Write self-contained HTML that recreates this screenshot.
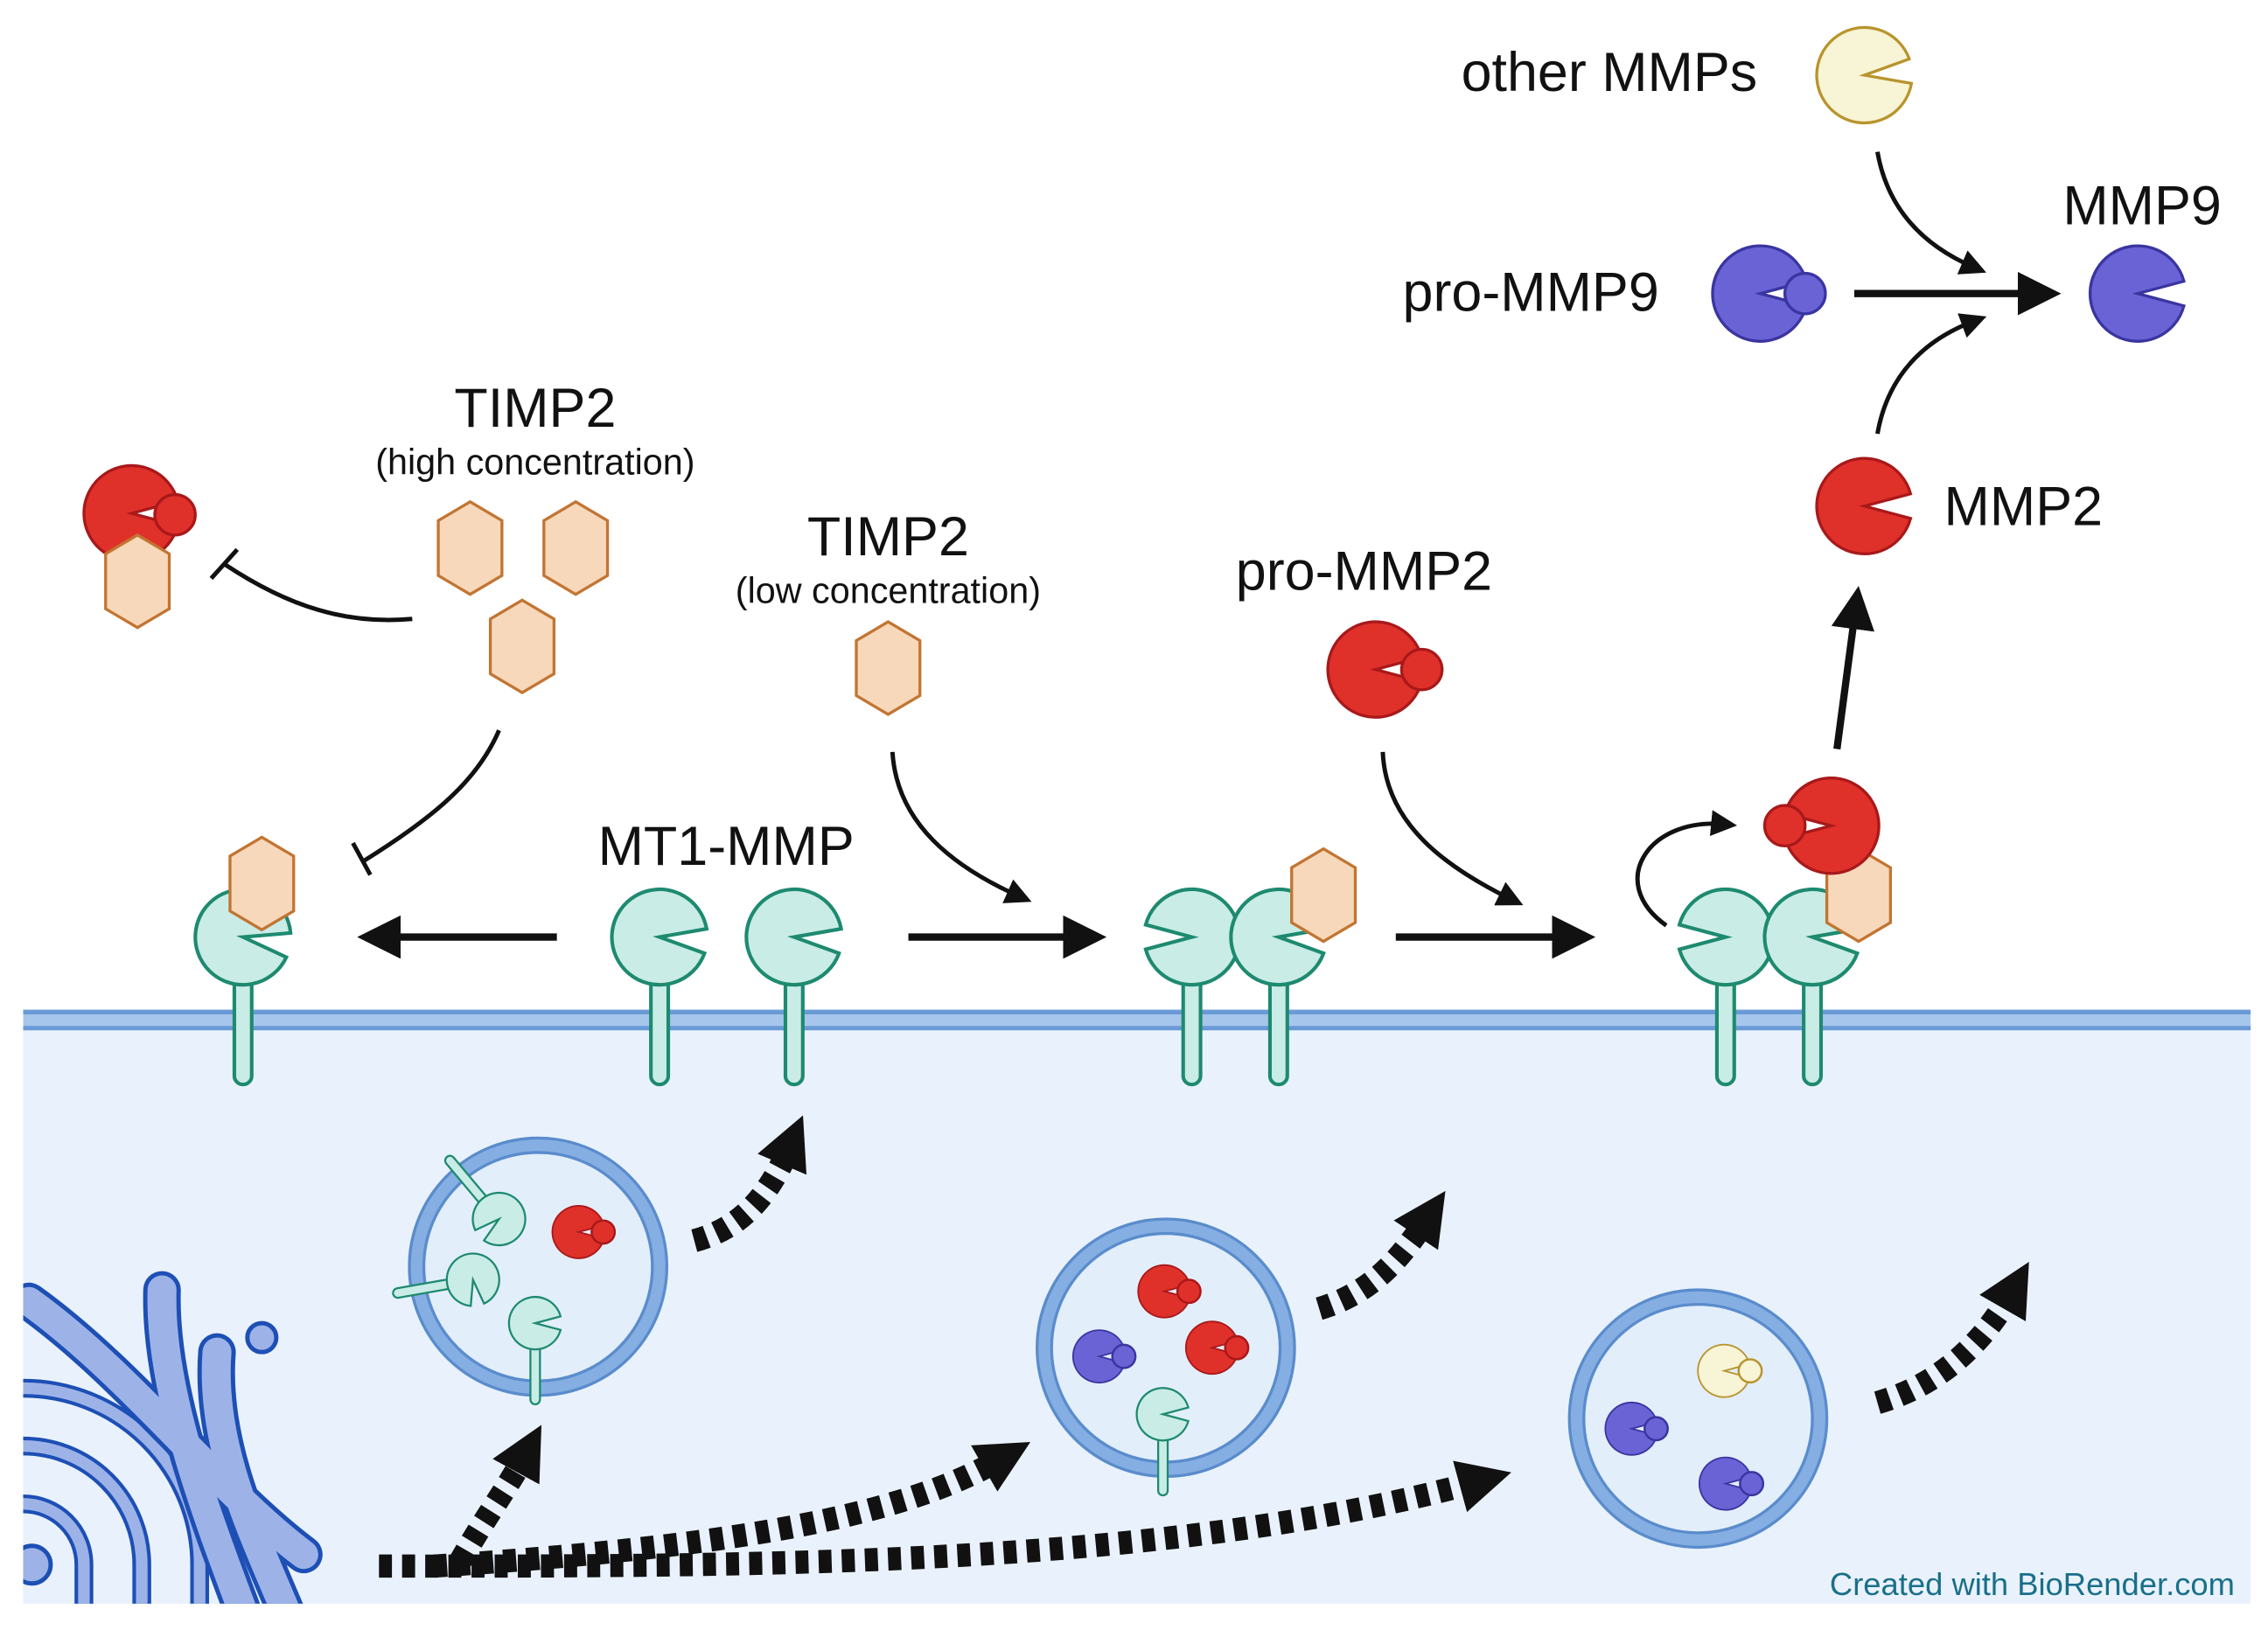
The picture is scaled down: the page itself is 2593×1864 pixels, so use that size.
<!DOCTYPE html>
<html><head><meta charset="utf-8"><style>
html,body{margin:0;padding:0;background:#fff}
svg{display:block}
text{font-family:"Liberation Sans",sans-serif;fill:#111}
</style></head><body>
<svg width="2593" height="1864" viewBox="0 0 1568 1127.2" xmlns="http://www.w3.org/2000/svg">
<defs>
<path id="pac" d="M0,0 L31.9,-8.5 A33 33 0 1 0 31.9,8.5 Z"/>
<path id="hex" d="M0,-32 L22,-19 L22,19 L0,32 L-22,19 L-22,-19 Z" fill="#f7d8bb" stroke="#c27532" stroke-width="2"/>
<g id="mt1h"><use href="#pac" fill="#c9ece6" stroke="#1e8a70" stroke-width="2.5"/></g>
<g id="mt1">
<rect x="-6" y="20" width="12" height="82" rx="6" fill="#c9ece6" stroke="#1e8a70" stroke-width="2.5"/>
<use href="#pac" fill="#c9ece6" stroke="#1e8a70" stroke-width="2.5"/>
</g>
<g id="red"><use href="#pac" fill="#e0302a" stroke="#a8191a" stroke-width="2"/></g>
<g id="pur"><use href="#pac" fill="#6a63d6" stroke="#3a35a0" stroke-width="2"/></g>
<g id="yel"><use href="#pac" fill="#f8f4d6" stroke="#b8942c" stroke-width="2"/></g>
<marker id="ah" markerWidth="6" markerHeight="6" refX="3" refY="3" orient="auto" markerUnits="strokeWidth"><path d="M0,0 L6,3 L0,6 Z" fill="#111"/></marker>
<marker id="ah2" viewBox="0 0 10 10" markerWidth="2.3" markerHeight="2.3" refX="3" refY="5" orient="auto" markerUnits="strokeWidth"><path d="M0,0 L10,5 L0,10 Z" fill="#111"/></marker>
<clipPath id="cyt"><rect x="16" y="712" width="1540" height="397"/></clipPath>
</defs>

<!-- cytoplasm -->
<rect x="16" y="710" width="1540" height="399" fill="#e9f2fc"/>
<rect x="16" y="698" width="1540" height="14" fill="#a7c6ec"/>
<line x1="16" y1="700" x2="1556" y2="700" stroke="#6a9ad6" stroke-width="3"/>
<line x1="16" y1="711" x2="1556" y2="711" stroke="#6a9ad6" stroke-width="3"/>

<!-- golgi -->
<g fill="none" stroke-linecap="round" clip-path="url(#cyt)">
<g stroke="#1d4fb5" stroke-width="13">
<path d="M16,1040 A42 42 0 0 1 58,1082 L58,1120"/>
<path d="M16,1000 A82 82 0 0 1 98,1082 L98,1120"/>
<path d="M16,960 A122 122 0 0 1 138,1082 L138,1120"/>
</g>
<g stroke="#9db3e8" stroke-width="8">
<path d="M16,1040 A42 42 0 0 1 58,1082 L58,1120"/>
<path d="M16,1000 A82 82 0 0 1 98,1082 L98,1120"/>
<path d="M16,960 A122 122 0 0 1 138,1082 L138,1120"/>
</g>
<g stroke="#1d4fb5" stroke-width="26">
<path d="M20,900 C90,950 150,1030 210,1075"/>
<path d="M112,892 C110,960 140,1040 170,1120"/>
<path d="M150,935 C145,1000 175,1060 200,1120"/>
</g>
<g stroke="#9db3e8" stroke-width="20">
<path d="M20,900 C90,950 150,1030 210,1075"/>
<path d="M112,892 C110,960 140,1040 170,1120"/>
<path d="M150,935 C145,1000 175,1060 200,1120"/>
</g>
<circle cx="181" cy="925" r="10" fill="#9db3e8" stroke="#1d4fb5" stroke-width="3"/>
<circle cx="22" cy="1082" r="13" fill="#9db3e8" stroke="#1d4fb5" stroke-width="3"/>
</g>

<!-- vesicles -->
<g fill="#e3eefb" stroke="#85aee3" stroke-width="9">
<circle cx="372" cy="876" r="84"/>
<circle cx="806" cy="932" r="84"/>
<circle cx="1174" cy="981" r="84"/>
</g>
<g fill="none" stroke="#5a8ccc" stroke-width="2">
<circle cx="372" cy="876" r="89"/><circle cx="372" cy="876" r="79"/>
<circle cx="806" cy="932" r="89"/><circle cx="806" cy="932" r="79"/>
<circle cx="1174" cy="981" r="89"/><circle cx="1174" cy="981" r="79"/>
</g>
<!-- vesicle contents -->
<g transform="translate(345,843) rotate(140) scale(0.55)"><use href="#mt1"/></g>
<g transform="translate(327,885) rotate(80) scale(0.55)"><use href="#mt1"/></g>
<g transform="translate(370,915) scale(0.55)"><use href="#mt1"/></g>
<g transform="translate(400,852) scale(0.55)"><use href="#red"/></g><circle cx="417" cy="852" r="8" fill="#e0302a" stroke="#a8191a" stroke-width="1.5"/>
<g transform="translate(805,893) scale(0.55)"><use href="#red"/></g><circle cx="822" cy="893" r="8" fill="#e0302a" stroke="#a8191a" stroke-width="1.5"/>
<g transform="translate(838,932) scale(0.55)"><use href="#red"/></g><circle cx="855" cy="932" r="8" fill="#e0302a" stroke="#a8191a" stroke-width="1.5"/>
<g transform="translate(760,938) scale(0.55)"><use href="#pur"/></g><circle cx="777" cy="938" r="8" fill="#6a63d6" stroke="#3a35a0" stroke-width="1.5"/>
<g transform="translate(804,978) scale(0.55)"><use href="#mt1"/></g>
<g transform="translate(1192,948) scale(0.55)"><use href="#yel"/></g><circle cx="1210" cy="948" r="8" fill="#f8f4d6" stroke="#b8942c" stroke-width="1.5"/>
<g transform="translate(1128,988) scale(0.55)"><use href="#pur"/></g><circle cx="1145" cy="988" r="8" fill="#6a63d6" stroke="#3a35a0" stroke-width="1.5"/>
<g transform="translate(1193,1026) scale(0.55)"><use href="#pur"/></g><circle cx="1211" cy="1026" r="8" fill="#6a63d6" stroke="#3a35a0" stroke-width="1.5"/>

<!-- dashed arrows -->
<g fill="none" stroke="#111" stroke-width="16" stroke-dasharray="9 7">
<path d="M262,1083 C500,1083 800,1085 1020,1025" marker-end="url(#ah2)"/>
<path d="M300,1083 C500,1070 620,1050 690,1010" marker-end="url(#ah2)"/>
<path d="M318,1080 C335,1050 350,1030 362,1008" marker-end="url(#ah2)"/>
<path d="M480,858 C510,850 530,830 545,795" marker-end="url(#ah2)"/>
<path d="M912,905 C945,895 965,875 985,845" marker-end="url(#ah2)"/>
<path d="M1298,970 C1340,958 1370,930 1390,895" marker-end="url(#ah2)"/>
</g>

<!-- membrane proteins -->
<rect x="162" y="668" width="12" height="82" rx="6" fill="#c9ece6" stroke="#1e8a70" stroke-width="2.5"/>
<g transform="translate(168,648) rotate(10)"><use href="#mt1h"/></g>
<use href="#hex" transform="translate(181,611)"/>
<rect x="450" y="668" width="12" height="82" rx="6" fill="#c9ece6" stroke="#1e8a70" stroke-width="2.5"/>
<g transform="translate(456,648) rotate(5)"><use href="#mt1h"/></g>
<rect x="543" y="668" width="12" height="82" rx="6" fill="#c9ece6" stroke="#1e8a70" stroke-width="2.5"/>
<g transform="translate(549,648) rotate(5)"><use href="#mt1h"/></g>
<rect x="818" y="668" width="12" height="82" rx="6" fill="#c9ece6" stroke="#1e8a70" stroke-width="2.5"/>
<g transform="translate(824,648) rotate(180) scale(1,-1)"><use href="#mt1h"/></g>
<rect x="878" y="668" width="12" height="82" rx="6" fill="#c9ece6" stroke="#1e8a70" stroke-width="2.5"/>
<g transform="translate(884,648) rotate(5)"><use href="#mt1h"/></g>
<use href="#hex" transform="translate(915,619)"/>
<rect x="1187" y="668" width="12" height="82" rx="6" fill="#c9ece6" stroke="#1e8a70" stroke-width="2.5"/>
<g transform="translate(1193,648) rotate(180) scale(1,-1)"><use href="#mt1h"/></g>
<rect x="1247" y="668" width="12" height="82" rx="6" fill="#c9ece6" stroke="#1e8a70" stroke-width="2.5"/>
<g transform="translate(1253,648) rotate(5)"><use href="#mt1h"/></g>
<use href="#hex" transform="translate(1285,619)"/>
<g transform="translate(1266,571) rotate(180)"><use href="#red"/></g>
<circle cx="1234" cy="571" r="14" fill="#e0302a" stroke="#a8191a" stroke-width="2"/>

<!-- top-left complex -->
<g transform="translate(91,355)"><use href="#red"/></g>
<circle cx="121" cy="356" r="14" fill="#e0302a" stroke="#a8191a" stroke-width="2"/>
<use href="#hex" transform="translate(95,402)"/>
<use href="#hex" transform="translate(325,379)"/>
<use href="#hex" transform="translate(398,379)"/>
<use href="#hex" transform="translate(361,447)"/>
<use href="#hex" transform="translate(614,462)"/>
<g transform="translate(951,463)"><use href="#red"/></g>
<circle cx="983" cy="463" r="14" fill="#e0302a" stroke="#a8191a" stroke-width="2"/>

<!-- top right -->
<g transform="translate(1289,52) rotate(-5)"><use href="#yel"/></g>
<g transform="translate(1217,203)"><use href="#pur"/></g>
<circle cx="1248" cy="203" r="14" fill="#6a63d6" stroke="#3a35a0" stroke-width="2"/>
<g transform="translate(1478,203)"><use href="#pur"/></g>
<g transform="translate(1289,350)"><use href="#red"/></g>

<!-- arrows -->
<g fill="none" stroke="#111" stroke-width="5">
<line x1="385" y1="648" x2="262" y2="648" marker-end="url(#ah)"/>
<line x1="628" y1="648" x2="750" y2="648" marker-end="url(#ah)"/>
<line x1="965" y1="648" x2="1088" y2="648" marker-end="url(#ah)"/>
<line x1="1282" y1="203" x2="1410" y2="203" marker-end="url(#ah)"/>
<line x1="1270" y1="518" x2="1283" y2="420" marker-end="url(#ah)"/>
</g>
<g fill="none" stroke="#111" stroke-width="3">
<path d="M617,520 C620,570 660,600 705,620" marker-end="url(#ah)"/>
<path d="M956,520 C958,570 1000,600 1045,622" marker-end="url(#ah)"/>
<path d="M1152,640 C1110,610 1140,565 1192,570" marker-end="url(#ah)"/>
<path d="M1298,105 C1305,145 1330,170 1365,185" marker-end="url(#ah)"/>
<path d="M1298,300 C1305,260 1330,235 1365,222" marker-end="url(#ah)"/>
<path d="M285,428 C240,432 200,420 155,390"/>
<line x1="146" y1="400" x2="164" y2="380"/>
<path d="M345,505 C330,540 300,565 252,595"/>
<line x1="244" y1="583" x2="256" y2="605"/>
</g>

<!-- labels -->
<text x="370" y="295" font-size="38" text-anchor="middle">TIMP2</text>
<text x="370" y="328" font-size="25" text-anchor="middle">(high concentration)</text>
<text x="614" y="384" font-size="38" text-anchor="middle">TIMP2</text>
<text x="614" y="417" font-size="25" text-anchor="middle">(low concentration)</text>
<text x="502" y="598" font-size="38" text-anchor="middle">MT1-MMP</text>
<text x="943" y="408" font-size="38" text-anchor="middle">pro-MMP2</text>
<text x="1344" y="363" font-size="38">MMP2</text>
<text x="1147" y="215" font-size="38" text-anchor="end">pro-MMP9</text>
<text x="1481" y="155" font-size="38" text-anchor="middle">MMP9</text>
<text x="1215" y="63" font-size="38" text-anchor="end">other MMPs</text>
<text x="1545" y="1103" font-size="22" text-anchor="end" style="fill:#1a6f8a">Created with BioRender.com</text>
</svg>
</body></html>
